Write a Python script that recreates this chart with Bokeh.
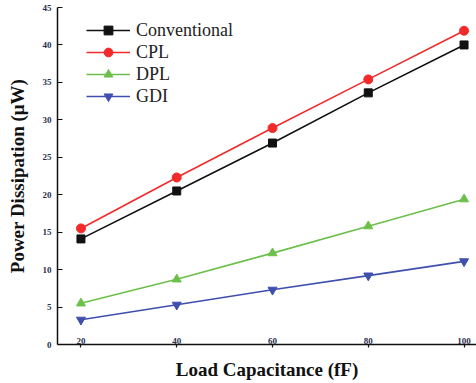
from bokeh.plotting import figure
from bokeh.models import Legend, LegendItem, FixedTicker, Range1d
from bokeh.embed import file_html
from bokeh.resources import INLINE

# Load capacitance (fF) and power dissipation (uW) for each logic style
load_cap = [20, 40, 60, 80, 100]
conventional = [14.1, 20.5, 26.9, 33.6, 40.0]
cpl = [15.5, 22.3, 28.9, 35.4, 41.9]
dpl = [5.5, 8.7, 12.2, 15.8, 19.4]
gdi = [3.3, 5.3, 7.3, 9.2, 11.1]

series_names = ["Conventional", "CPL", "DPL", "GDI"]
x_ticks = [20, 40, 60, 80, 100]
y_ticks = [0, 5, 10, 15, 20, 25, 30, 35, 40, 45]

SERIF = "Liberation Serif"

p = figure(width=476, height=383, output_backend="svg", toolbar_location=None,
           x_range=Range1d(15.1, 102.6), y_range=Range1d(0, 45),
           min_border_left=57, min_border_right=0, min_border_top=7,
           min_border_bottom=39)
p.outline_line_color = None
p.grid.grid_line_color = None
p.background_fill_color = "white"
p.border_fill_color = "white"

styles = [
    ("#111111", "square", 8),
    ("#f22a2a", "circle", 9),
    ("#6cc04a", "triangle", 9),
    ("#3f4fae", "inverted_triangle", 9),
]
values = [conventional, cpl, dpl, gdi]

items = []
for name, ys, (color, marker, size) in zip(series_names, values, styles):
    ln = p.line(load_cap, ys, line_color=color, line_width=1.6)
    mk = p.scatter(load_cap, ys, marker=marker, size=size,
                   fill_color=color, line_color=color)
    items.append(LegendItem(label=name, renderers=[ln, mk]))

legend = Legend(items=items, location=(29, 237), orientation="vertical",
                padding=0, margin=0, spacing=0,
                glyph_width=44, glyph_height=22, label_height=22,
                label_standoff=6,
                label_text_font=SERIF, label_text_font_size="18px",
                label_text_color="#222222",
                background_fill_alpha=0, border_line_color=None)
p.add_layout(legend)

# axes
for ax in (p.xaxis, p.yaxis):
    ax.axis_line_color = "#111111"
    ax.axis_line_width = 1.5
    ax.major_tick_line_color = "#111111"
    ax.major_tick_line_width = 1.2
    ax.minor_tick_line_color = None
    ax.major_label_text_font = SERIF
    ax.major_label_text_font_size = "9px"
    ax.major_label_text_font_style = "bold"
    ax.major_label_text_color = "#2a3050"
    ax.axis_label_text_font = SERIF
    ax.axis_label_text_font_style = "bold"
    ax.axis_label_text_color = "#111111"

p.xaxis.ticker = FixedTicker(ticks=x_ticks)
p.xaxis.major_tick_in = 0
p.xaxis.major_tick_out = 3
p.xaxis.major_label_standoff = -10
p.xaxis.axis_label = "Load Capacitance (fF)"
p.xaxis.axis_label_text_font_size = "19px"
p.xaxis.axis_label_standoff = 12

p.yaxis.ticker = FixedTicker(ticks=y_ticks)
p.yaxis.major_tick_in = 5
p.yaxis.major_tick_out = 0
p.yaxis.major_label_standoff = 6
p.yaxis.axis_label = "Power Dissipation (\u03bcW)"
p.yaxis.axis_label_text_font_size = "19px"
p.yaxis.axis_label_standoff = 12

open("out.html", "w").write(file_html(p, INLINE))
